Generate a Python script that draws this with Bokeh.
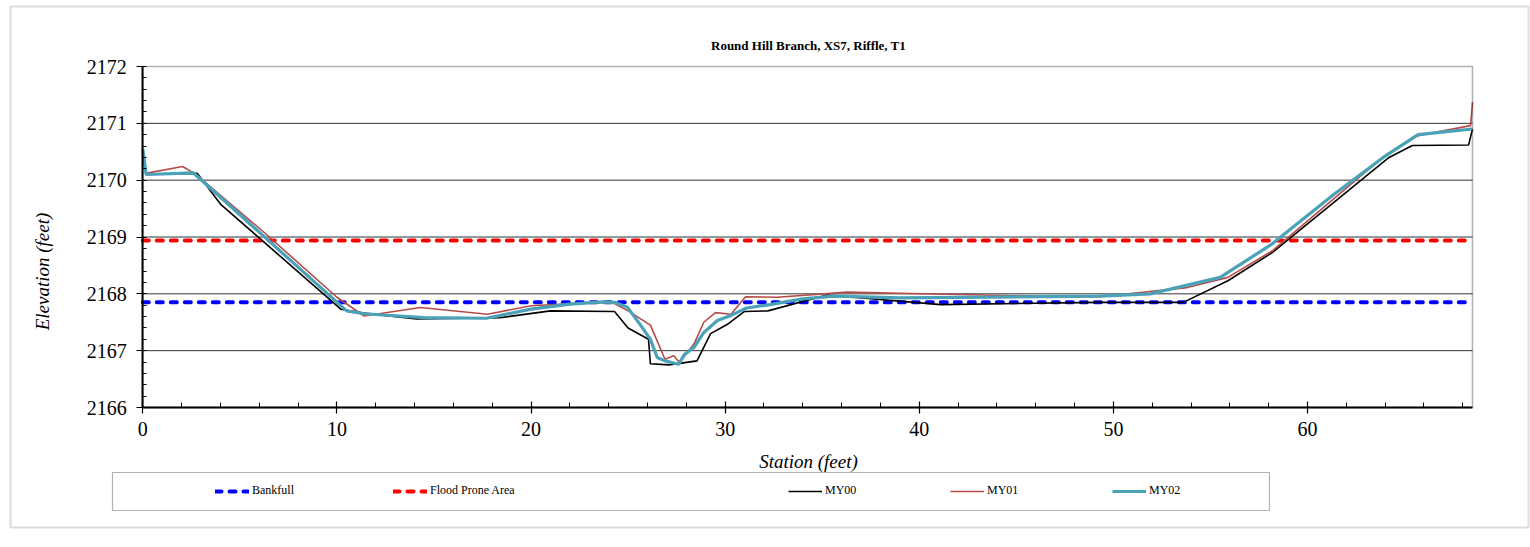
import math
from bokeh.plotting import figure
from bokeh.models import (Range1d, SingleIntervalTicker, Legend, LegendItem,
                          Label, BoxAnnotation)
from bokeh.embed import file_html
from bokeh.resources import INLINE

# ---- survey data: station (ft) vs elevation (ft) ----
my00_station = [0.0, 0.2, 2.8, 4.0, 10.2, 11.4, 14.1, 18.4, 21.0, 24.3, 25.0,
                26.05, 26.15, 27.1, 28.55, 29.25, 30.1, 31.0, 32.2, 35.25,
                41.1, 49.3, 53.6, 55.9, 58.2, 64.2, 65.4, 68.3, 68.5]
my00_elev = [2170.45, 2170.10, 2170.12, 2169.58, 2167.73, 2167.66, 2167.56,
             2167.58, 2167.70, 2167.69, 2167.40, 2167.20, 2166.77, 2166.75,
             2166.82, 2167.30, 2167.46, 2167.69, 2167.70, 2167.98, 2167.81,
             2167.85, 2167.85, 2168.23, 2168.73, 2170.40, 2170.61, 2170.62,
             2170.90]

my01_station = [0.0, 0.15, 2.05, 2.7, 6.15, 10.0, 11.4, 14.3, 17.75, 20.0,
                23.4, 24.3, 25.0, 26.15, 26.9, 27.35, 27.65, 28.4, 28.9, 29.5,
                30.3, 31.05, 32.7, 36.3, 39.0, 47.6, 49.3, 53.8, 55.9, 58.2,
                63.9, 65.5, 68.4, 68.5]
my01_elev = [2170.45, 2170.12, 2170.24, 2170.11, 2169.11, 2167.94, 2167.61,
             2167.76, 2167.64, 2167.79, 2167.85, 2167.83, 2167.70, 2167.45,
             2166.85, 2166.91, 2166.79, 2167.12, 2167.50, 2167.67, 2167.64,
             2167.95, 2167.94, 2168.03, 2168.01, 2167.95, 2167.95, 2168.11,
             2168.29, 2168.76, 2170.41, 2170.77, 2170.96, 2171.37]

my02_station = [0.0, 0.17, 2.6, 10.5, 11.4, 14.5, 17.7, 20.0, 22.0, 23.75,
                24.3, 24.95, 25.6, 26.15, 26.5, 26.9, 27.6, 27.9, 28.4, 28.9,
                29.6, 30.3, 31.1, 32.3, 34.0, 35.6, 39.0, 49.3, 51.9, 55.5,
                58.1, 61.4, 63.9, 65.7, 68.5]
my02_elev = [2170.55, 2170.10, 2170.13, 2167.70, 2167.65, 2167.58, 2167.57,
             2167.73, 2167.82, 2167.86, 2167.85, 2167.77, 2167.47, 2167.20,
             2166.88, 2166.82, 2166.76, 2166.93, 2167.06, 2167.32, 2167.53,
             2167.62, 2167.75, 2167.81, 2167.91, 2167.96, 2167.93, 2167.96,
             2168.00, 2168.29, 2168.86, 2169.76, 2170.40, 2170.80, 2170.90]

bankfull_elev = 2167.85
flood_prone_elev = 2168.94

x_min, x_max = 0.0, 68.5
y_min, y_max = 2166.0, 2172.0
grid_elevs = [2167, 2168, 2169, 2170, 2171]

# ---- page layout (pixels) ----
W, H = 1530, 547
F_LEFT, F_RIGHT, F_TOP, F_BOTTOM = 142.3, 1472, 66, 407
PPX = (F_RIGHT - F_LEFT) / (x_max - x_min)
PPY = (F_BOTTOM - F_TOP) / (y_max - y_min)

SERIF = "Liberation Serif"


def sx(px):
    """horizontal canvas pixel -> station units"""
    return x_min + (px - F_LEFT) / PPX


def sy(py):
    """vertical canvas pixel -> elevation units"""
    return y_min + (F_BOTTOM - py) / PPY


# The frame fills the whole canvas; the plotting area sits inside it and the
# axes are pinned to its lower-left corner.
p = figure(width=W, height=H, output_backend="svg", toolbar_location=None,
           title=None,
           x_range=Range1d(sx(0), sx(W)), y_range=Range1d(sy(H), sy(0)),
           min_border=0)
p.background_fill_color = "white"
p.border_fill_color = "white"
p.outline_line_color = None

p.xaxis.ticker = SingleIntervalTicker(interval=10, num_minor_ticks=5)
p.yaxis.ticker = SingleIntervalTicker(interval=1, num_minor_ticks=5)
p.xaxis.fixed_location = y_min
p.yaxis.fixed_location = x_min
p.xaxis.bounds = (x_min, x_max)
p.yaxis.bounds = (y_min, y_max)
for ax in (p.xaxis[0], p.yaxis[0]):
    ax.axis_line_color = "black"
    ax.axis_line_width = 2
    ax.major_tick_line_color = "black"
    ax.minor_tick_line_color = "black"
    ax.major_tick_line_width = 1.2
    ax.minor_tick_line_width = 1
    ax.major_label_text_font = SERIF
    ax.major_label_text_font_size = "20px"
    ax.major_label_text_color = "black"
p.yaxis.major_tick_out = 6
p.yaxis.major_tick_in = 0
p.yaxis.minor_tick_in = 4
p.yaxis.minor_tick_out = 0
p.yaxis.major_label_standoff = 10
p.xaxis.major_tick_out = 6
p.xaxis.major_tick_in = 6
p.xaxis.minor_tick_in = 5
p.xaxis.minor_tick_out = 0
p.xaxis.major_label_standoff = 8

p.xgrid.visible = False
p.ygrid.visible = False

# horizontal gridlines across the plotting area only
p.segment(x0=x_min, x1=x_max, y0=grid_elevs, y1=grid_elevs,
          line_color="#333333", line_width=1)

# plotting-area border (top and right edges)
p.add_layout(BoxAnnotation(left=x_min, right=x_max, bottom=y_min, top=y_max,
                           fill_alpha=0, line_color="black", line_width=1.6))

# reference elevations across the full section
span_x = [x_min, x_max]
r_bkf = p.line(span_x, [bankfull_elev] * 2, line_color="#0000FF",
               line_width=4, line_dash="6 8", line_cap="round")
r_fpa = p.line(span_x, [flood_prone_elev] * 2, line_color="#FF0000",
               line_width=4, line_dash="6 8", line_cap="round")

# surveyed cross-sections
r00 = p.line(my00_station, my00_elev, line_color="black", line_width=1.6)
r01 = p.line(my01_station, my01_elev, line_color="#B54B48", line_width=1.6)
r02 = p.line(my02_station, my02_elev, line_color="#4AA2B8", line_width=3.2)

# titles
p.add_layout(Label(x=sx(808), y=sy(45), text="Round Hill Branch, XS7, Riffle, T1",
                   text_font=SERIF, text_font_style="bold",
                   text_font_size="13px", text_align="center",
                   text_baseline="middle", text_color="black"))
p.add_layout(Label(x=sx(808), y=sy(461), text="Station (feet)",
                   text_font=SERIF, text_font_style="italic",
                   text_font_size="19px", text_align="center",
                   text_baseline="middle", text_color="black"))
p.add_layout(Label(x=sx(42), y=sy(271), text="Elevation (feet)",
                   text_font=SERIF, text_font_style="italic",
                   text_font_size="19px", text_align="center",
                   text_baseline="middle", angle=math.pi / 2,
                   text_color="black"))

# chart border and legend frame
p.add_layout(BoxAnnotation(left=sx(10), right=sx(1528), top=sy(6), bottom=sy(527),
                           fill_alpha=0, line_color="#8a8a8a", line_width=2))
p.add_layout(BoxAnnotation(left=sx(112), right=sx(1269), top=sy(472), bottom=sy(510),
                           fill_alpha=0, line_color="black", line_width=1.2))


def make_legend(items, left_px, spacing, label_width):
    leg = Legend(items=items, orientation="horizontal",
                 location=(left_px, H - 498),
                 margin=0, padding=0, spacing=spacing,
                 glyph_width=34, glyph_height=14, label_standoff=3,
                 label_width=label_width, label_height=14,
                 label_text_font=SERIF, label_text_font_size="12px",
                 label_text_color="black",
                 border_line_alpha=0, background_fill_alpha=0)
    p.add_layout(leg)


make_legend([LegendItem(label="Bankfull", renderers=[r_bkf]),
             LegendItem(label="Flood Prone Area", renderers=[r_fpa])],
            215, 178 - 37 - 44, 44)
make_legend([LegendItem(label="MY00", renderers=[r00]),
             LegendItem(label="MY01", renderers=[r01]),
             LegendItem(label="MY02", renderers=[r02])],
            788, 162 - 37 - 32, 32)

open("out.html", "w").write(file_html(p, INLINE))
